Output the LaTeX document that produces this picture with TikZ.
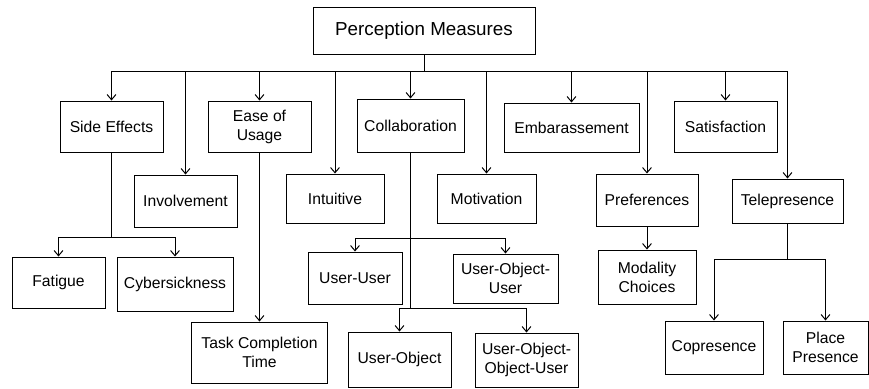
\documentclass[tikz,border=0pt]{standalone}
\usepackage{fontspec}
\setmainfont{Liberation Sans}
\usetikzlibrary{arrows.meta}
\tikzset{
    mbox/.style={draw, line width=0.5pt, inner sep=0pt, align=center,
        font=\fontsize{7.85}{9.5}\selectfont},
    boxsize/.style 2 args={minimum width=#1*0.5pt, minimum height=#2*0.5pt},
    link/.style={line width=0.5pt, -{Straight Barb[length=2.6pt,width=4.4pt]}},
    plain/.style={line width=0.5pt},
}

\begin{document}
\begin{tikzpicture}[x=0.5pt,y=-0.5pt]
\useasboundingbox (0,0) rectangle (869,388);
% root
\node[mbox, boxsize={222}{47}, font=\fontsize{9.4}{11}\selectfont] (pm) at (424,30.5) {Perception Measures};
% first level
		\node[mbox, boxsize={103}{51}] (side) at (111.5,126.5) {Side Effects};
		\node[mbox, boxsize={103}{52}] (involve) at (185.5,201) {Involvement};
		\node[mbox, boxsize={103}{51}] (ease) at (259.5,126.5) {Ease of\\Usage};
		\node[mbox, boxsize={98}{49}] (intuit) at (335,198.5) {Intuitive};
		\node[mbox, boxsize={107}{53}] (collab) at (410.5,125.5) {Collaboration};
		\node[mbox, boxsize={99}{49}] (motiv) at (486.5,198.5) {Motivation};
		\node[mbox, boxsize={135}{49}] (embar) at (571.5,127.5) {Embarassement};
		\node[mbox, boxsize={102}{52}] (prefer) at (647,200) {Preferences};
		\node[mbox, boxsize={103}{51}] (satis) at (725.5,126.5) {Satisfaction};
		\node[mbox, boxsize={111}{44}] (telep) at (787.5,201) {Telepresence};
% second level
		\node[mbox, boxsize={93}{51}] (fatigue) at (58.5,282.5) {Fatigue};
		\node[mbox, boxsize={116}{54}] (cyber) at (175,284) {Cybersickness};
		\node[mbox, boxsize={136}{61}] (task) at (259.5,352.5) {Task Completion\\Time};
		\node[mbox, boxsize={94}{52}] (uu) at (355,278) {User-User};
		\node[mbox, boxsize={105}{49}] (uou) at (505.5,278.5) {User-Object-\\User};
		\node[mbox, boxsize={103}{55}] (uo) at (399.5,359.5) {User-Object};
		\node[mbox, boxsize={103}{54}] (uoou) at (526.5,360) {User-Object-\\Object-User};
		\node[mbox, boxsize={98}{54}] (modal) at (647,277) {Modality\\Choices};
		\node[mbox, boxsize={98}{53}] (copres) at (714,347.5) {Copresence};
		\node[mbox, boxsize={85}{53}] (place) at (825.5,347.5) {Place\\Presence};
% branch points
		\coordinate (bus) at (424,71);
		\coordinate (sidebus) at (111.5,237);
		\coordinate (collbusa) at (410.5,238);
		\coordinate (collbusb) at (410.5,308);
		\coordinate (telebus) at (787.5,259);
% root to first level
		\draw[plain] (pm.south) -- (bus);
		\draw[link] (bus) -| (side.north);
		\draw[link] (bus) -| (involve.north);
		\draw[link] (bus) -| (ease.north);
		\draw[link] (bus) -| (intuit.north);
		\draw[link] (bus) -| (collab.north);
		\draw[link] (bus) -| (motiv.north);
		\draw[link] (bus) -| (embar.north);
		\draw[link] (bus) -| (prefer.north);
		\draw[link] (bus) -| (satis.north);
		\draw[link] (bus) -| (telep.north);
% side effects
		\draw[plain] (side.south) -- (sidebus);
		\draw[link] (sidebus) -| (fatigue.north);
		\draw[link] (sidebus) -| (cyber.north);
% ease of usage
		\draw[link] (ease.south) -- (task.north);
% collaboration
		\draw[plain] (collab.south) -- (collbusb);
		\draw[link] (collbusa) -| (uu.north);
		\draw[link] (collbusa) -| (uou.north);
		\draw[link] (collbusb) -| (uo.north);
		\draw[link] (collbusb) -| (uoou.north);
% preferences
		\draw[link] (prefer.south) -- (modal.north);
% telepresence
		\draw[plain] (telep.south) -- (telebus);
		\draw[link] (telebus) -| (copres.north);
		\draw[link] (telebus) -| (place.north);
\end{tikzpicture}
\end{document}
